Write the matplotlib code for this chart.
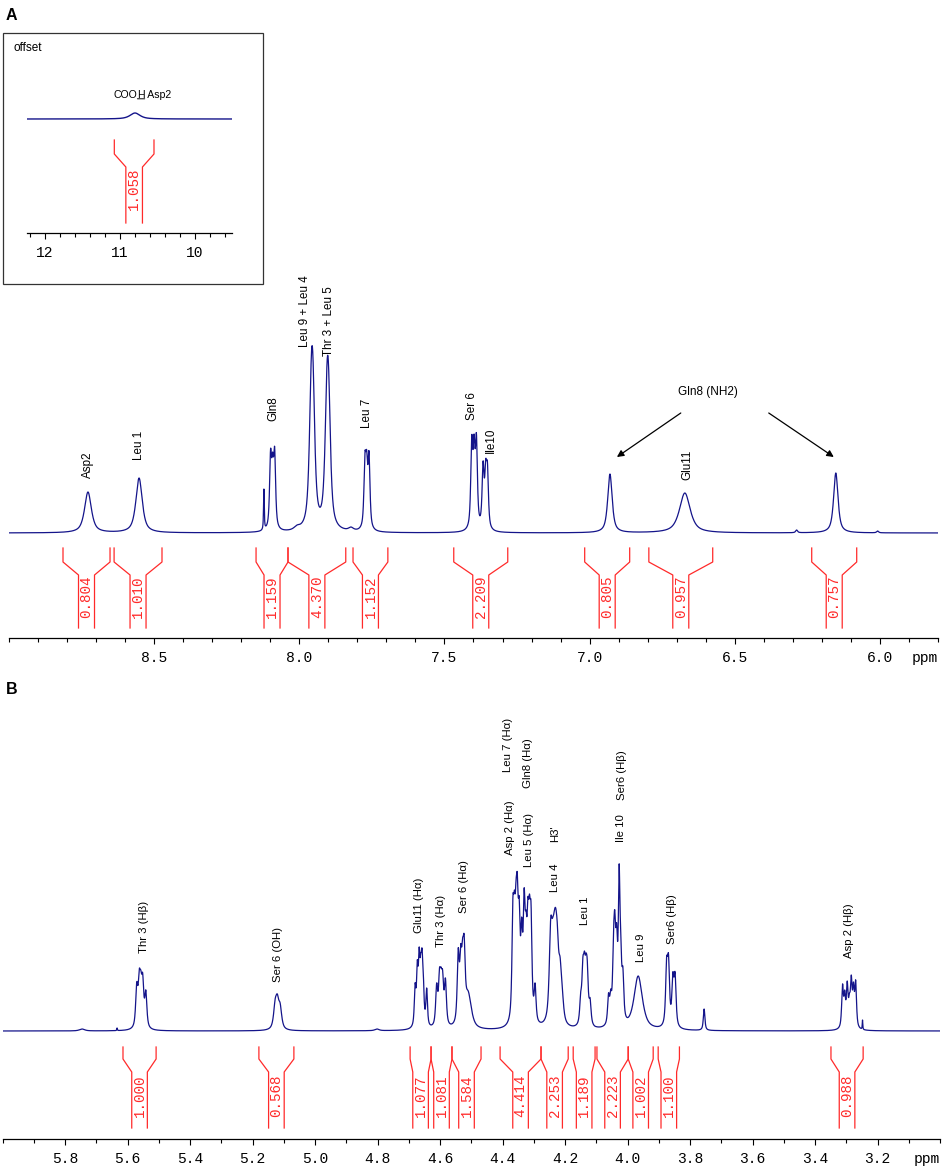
#!/usr/bin/env python3
"""1H NMR spectrum of the peptide: NH region (A, with COOH inset) and
H-alpha / side chain region (B), with integrals."""

import matplotlib
matplotlib.use("Agg")
import matplotlib.pyplot as plt
import numpy as np
from matplotlib.patches import Rectangle
from matplotlib.ticker import FixedLocator, MultipleLocator

W, H, DPI = 943, 1167, 100
BLUE = "#14148a"
RED = "#ff2a2a"
SANS = ["Liberation Sans", "DejaVu Sans"]
MONO = "Liberation Mono"
ETA = 0.75          # lorentzian fraction of the line shape

# ---------------------------------------------------------------- data
# peak lists: chemical shift (ppm), apex height (a.u.), half width (ppm)
INSET_PEAK_PPM = [10.80]
INSET_PEAK_HEIGHT = [6]
INSET_PEAK_HWHM = [0.08]

A_PEAK_PPM = [8.728, 8.552, 8.122, 8.099, 8.092, 8.085, 8.008, 7.959, 7.953,
              7.905, 7.899, 7.822, 7.774, 7.768, 7.760, 7.406, 7.398, 7.390,
              7.367, 7.358, 7.352, 6.930, 6.672, 6.287, 6.152, 6.008]
A_PEAK_HEIGHT = [41, 55, 44, 84, 81, 86, 8, 174, 176,
                 167, 165, 6, 81, 83, 82, 98, 99, 100,
                 72, 74, 71, 59, 40, 3, 60, 2]
A_PEAK_HWHM = [0.014, 0.013, 0.0015, 0.004, 0.004, 0.004, 0.012, 0.008, 0.008,
               0.008, 0.008, 0.010, 0.004, 0.004, 0.004, 0.004, 0.004, 0.004,
               0.004, 0.004, 0.004, 0.009, 0.022, 0.004, 0.009, 0.004]

B_PEAK_PPM = [5.746, 5.634,
              5.571, 5.563, 5.558, 5.552, 5.542,
              5.128, 5.121, 5.112,
              4.802,
              4.680, 4.673, 4.667, 4.662, 4.658, 4.654, 4.643,
              4.611, 4.602, 4.597, 4.592, 4.583,
              4.542, 4.534, 4.528, 4.523, 4.510,
              4.367, 4.362, 4.357, 4.353, 4.347, 4.339, 4.331, 4.325, 4.319,
              4.314, 4.309, 4.296,
              4.246, 4.239, 4.234, 4.230, 4.225, 4.216, 4.209,
              4.150, 4.143, 4.138, 4.133, 4.129, 4.120,
              4.105,
              4.061, 4.054, 4.045, 4.041, 4.035, 4.027, 4.022, 4.015,
              3.966,
              3.875, 3.869, 3.855, 3.848,
              3.755,
              3.312, 3.305, 3.297, 3.290, 3.284, 3.277, 3.270,
              3.248]
B_PEAK_HEIGHT = [2, 3,
                 49, 62, 61, 58, 41,
                 32, 37, 28,
                 2,
                 48, 71, 84, 78, 83, 61, 43,
                 48, 63, 64, 61, 53,
                 83, 87, 93, 96, 40,
                 134, 141, 151, 158, 134, 114, 143, 121, 134,
                 137, 128, 48,
                 113, 114, 121, 123, 108, 74, 44,
                 39, 74, 80, 78, 71, 33,
                 5,
                 38, 42, 101, 121, 108, 167, 101, 64,
                 55,
                 74, 77, 59, 59,
                 22,
                 47, 41, 50, 38, 56, 49, 51,
                 11]
B_PEAK_HWHM = [0.010, 0.001,
               0.004, 0.004, 0.004, 0.004, 0.004,
               0.006, 0.006, 0.006,
               0.008,
               0.003, 0.003, 0.003, 0.003, 0.003, 0.003, 0.003,
               0.0038, 0.0038, 0.0038, 0.0038, 0.0038,
               0.0038, 0.0038, 0.0038, 0.0038, 0.012,
               0.0036, 0.0036, 0.0036, 0.0036, 0.0036, 0.0036, 0.0036, 0.0036,
               0.0036, 0.0036, 0.0036, 0.0036,
               0.0055, 0.0055, 0.0055, 0.0055, 0.0055, 0.0055, 0.0055,
               0.0038, 0.0038, 0.0038, 0.0038, 0.0038, 0.0038,
               0.004,
               0.0035, 0.0035, 0.0035, 0.0035, 0.0035, 0.003, 0.0035, 0.0035,
               0.016,
               0.0038, 0.0038, 0.0038, 0.0038,
               0.003,
               0.0032, 0.0032, 0.0032, 0.0032, 0.0032, 0.0032, 0.0032,
               0.001]

# integrals: region start, region end (ppm) and value
INSET_INT_FROM = [11.076]
INSET_INT_TO = [10.547]
INSET_INT_VALUE = [1.058]

A_INT_FROM = [8.814, 8.638, 8.149, 8.039, 7.815, 7.468, 7.017, 6.796, 6.235]
A_INT_TO = [8.652, 8.473, 8.039, 7.840, 7.695, 7.282, 6.862, 6.576, 6.080]
A_INT_VALUE = [0.804, 1.010, 1.159, 4.370, 1.152, 2.209, 0.805, 0.957, 0.757]

B_INT_FROM = [5.615, 5.180, 4.696, 4.629, 4.562, 4.408, 4.277, 4.174, 4.098,
              3.998, 3.902, 3.349]
B_INT_TO = [5.509, 5.068, 4.629, 4.562, 4.469, 4.277, 4.190, 4.104, 3.998,
            3.918, 3.834, 3.246]
B_INT_VALUE = [1.000, 0.568, 1.077, 1.081, 1.584, 4.414, 2.253, 1.189, 2.223,
               1.002, 1.100, 0.988]

# peak assignments (text, ppm, bottom of label in axis units)
A_LABELS = [("Asp2", 8.728, 160), ("Leu 1", 8.552, 178), ("Gln8", 8.091, 217),
            ("Leu 9 + Leu 4", 7.981, 291), ("Thr 3 + Leu 5", 7.898, 282),
            ("Leu 7", 7.767, 210), ("Ser 6", 7.406, 218), ("Ile10", 7.340, 185),
            ("Glu11", 6.665, 158)]
B_LABELS = [("Thr 3 (Hβ)", 5.548, 186), ("Ser 6 (OH)", 5.119, 157),
            ("Glu11 (Hα)", 4.667, 206), ("Thr 3 (Hα)", 4.597, 192),
            ("Ser 6 (Hα)", 4.523, 226), ("Asp 2 (Hα)", 4.376, 284),
            ("Leu 5 (Hα)", 4.315, 272), ("Leu 7 (Hα)", 4.382, 367),
            ("Gln8 (Hα)", 4.318, 351), ("Leu 4", 4.232, 247), ("H3'", 4.232, 297),
            ("Leu 1", 4.136, 214), ("Ile 10", 4.021, 297),
            ("Ser6 (Hβ)", 4.018, 339), ("Leu 9", 3.957, 177),
            ("Ser6 (Hβ)", 3.858, 195), ("Asp 2 (Hβ)", 3.291, 181)]


# ---------------------------------------------------------------- helpers
def shape(x, c, w):
    d = (x - c) / w
    return ETA / (1 + d * d) + (1 - ETA) * np.exp(-np.log(2) * d * d)


def spectrum(x, ppm, height, hwhm):
    """Sum of lines whose amplitudes reproduce the apex heights."""
    ppm, height, hwhm = map(np.asarray, (ppm, height, hwhm))
    m = shape(ppm[:, None], ppm[None, :], hwhm[None, :])
    amp = np.linalg.solve(m, height)
    return shape(x[:, None], ppm[None, :], hwhm[None, :]) @ amp


def px_axes(fig, left, right, bottom, top):
    ax = fig.add_axes([left / W, 1 - bottom / H, (right - left) / W,
                       (bottom - top) / H])
    ax.set_facecolor("none")
    return ax


def style_axis(ax, xlim, ytop, majors, fmt):
    ax.set_xlim(*xlim)
    ax.set_ylim(0, ytop)
    for s in ("top", "left", "right"):
        ax.spines[s].set_visible(False)
    ax.spines["bottom"].set_linewidth(0.9)
    ax.set_yticks([])
    ax.xaxis.set_major_locator(FixedLocator(majors))
    ax.xaxis.set_minor_locator(MultipleLocator(0.1 if fmt != "{:.0f}" else 0.2))
    ax.set_xticklabels([fmt.format(v) for v in majors])
    ax.tick_params(axis="x", which="major", length=4.5, width=0.8, pad=4.6,
                   labelsize=10.5, labelfontfamily=MONO)
    ax.tick_params(axis="x", which="minor", length=2.7, width=0.8)


def draw_integrals(ax, starts, ends, values, geom, inner_px, width_px):
    top, knee, neck, foot, text_y = geom
    lo, hi = ax.get_xlim()
    half = inner_px * abs(lo - hi) / width_px
    for a, b, v in zip(starts, ends, values):
        c = (a + b) / 2
        ax.plot([a, a, c + half, c + half], [top, knee, neck, foot],
                color=RED, lw=0.9)
        ax.plot([b, b, c - half, c - half], [top, knee, neck, foot],
                color=RED, lw=0.9)
        ax.text(c, text_y, f"{v:.3f}", rotation=90, ha="center", va="center",
                color=RED, family=MONO, fontsize=10.3)


def draw_labels(ax, labels, size):
    for text, x, y in labels:
        ax.text(x, y, text, rotation=90, ha="center", va="bottom",
                fontsize=size, family=SANS)


def ppm_label(ax):
    ax.annotate("ppm", xy=(1, 0), xycoords="axes fraction",
                xytext=(0, -9.7), textcoords="offset points",
                ha="right", va="top", family=MONO, fontsize=10.5)


# ---------------------------------------------------------------- figure
fig = plt.figure(figsize=(W / DPI, H / DPI), dpi=DPI)

# panel A
axA = px_axes(fig, 9, 938, 638, 258)
style_axis(axA, (9.0, 5.8), 380, [8.5, 8.0, 7.5, 7.0, 6.5, 6.0], "{:.1f}")
xa = np.linspace(9.0, 5.8, 9000)
axA.plot(xa, 105 + spectrum(xa, A_PEAK_PPM, A_PEAK_HEIGHT, A_PEAK_HWHM),
         color=BLUE, lw=0.9)
draw_integrals(axA, A_INT_FROM, A_INT_TO, A_INT_VALUE,
               (90, 76, 63, 10, 41), 8, 929)
draw_labels(axA, A_LABELS, 8.4)
axA.text(6.593, 246, "Gln8 (NH2)", ha="center", va="center",
         fontsize=8.5, family=SANS)
for tail, head in (((6.686, 225), (6.906, 181)), ((6.383, 225), (6.159, 181))):
    axA.annotate("", xy=head, xytext=tail,
                 arrowprops=dict(arrowstyle="-|>", color="black", lw=0.9,
                                 mutation_scale=10, shrinkA=0, shrinkB=0))
ppm_label(axA)

# inset (COOH)
fig.add_artist(Rectangle((3 / W, 1 - 284 / H), 260 / W, 251 / H,
                         transform=fig.transFigure, fill=False,
                         lw=0.9, edgecolor="#333333"))
axI = px_axes(fig, 26.7, 232.3, 233, 40)
style_axis(axI, (12.244, 9.503), 193, [12, 11, 10], "{:.0f}")
xi = np.linspace(12.244, 9.503, 3000)
axI.plot(xi, 114 + spectrum(xi, INSET_PEAK_PPM, INSET_PEAK_HEIGHT,
                            INSET_PEAK_HWHM), color=BLUE, lw=1.0)
draw_integrals(axI, INSET_INT_FROM, INSET_INT_TO, INSET_INT_VALUE,
               (93, 79, 66, 10, 44), 8.3, 205.6)
t1 = axI.text(11.087, 135, "COO", ha="left", va="baseline",
              fontsize=7.6, family=SANS)
t2 = axI.annotate("H", xy=(1, 0), xycoords=t1, ha="left", va="bottom",
                  fontsize=7.6, family=SANS)
axI.annotate(" Asp2", xy=(1, 0), xycoords=t2, ha="left", va="bottom",
             fontsize=7.6, family=SANS)
axI.annotate("", xy=(0.02, 0.12), xycoords=t2, xytext=(0.98, 0.12),
             textcoords=t2, arrowprops=dict(arrowstyle="-", lw=0.7,
                                            shrinkA=0, shrinkB=0))
fig.text(13 / W, 1 - 48 / H, "offset", ha="left", va="center",
         fontsize=8.5, family=SANS)

# panel B
axB = px_axes(fig, 2.7, 940, 1139, 700)
style_axis(axB, (6.0, 3.0), 439, list(np.round(np.arange(5.8, 3.1, -0.2), 1)),
           "{:.1f}")
xb = np.linspace(6.0, 3.0, 16000)
axB.plot(xb, 108 + spectrum(xb, B_PEAK_PPM, B_PEAK_HEIGHT, B_PEAK_HWHM),
         color=BLUE, lw=0.9)
draw_integrals(axB, B_INT_FROM, B_INT_TO, B_INT_VALUE,
               (92, 80, 67, 11, 43), 7.8, 937.3)
draw_labels(axB, B_LABELS, 8.2)
ppm_label(axB)

fig.text(11 / W, 1 - 15 / H, "A", ha="center", va="center",
         fontsize=11.5, fontweight="bold", family=SANS)
fig.text(12 / W, 1 - 690 / H, "B", ha="center", va="center",
         fontsize=11.5, fontweight="bold", family=SANS)

fig.savefig("out.png", dpi=DPI)
